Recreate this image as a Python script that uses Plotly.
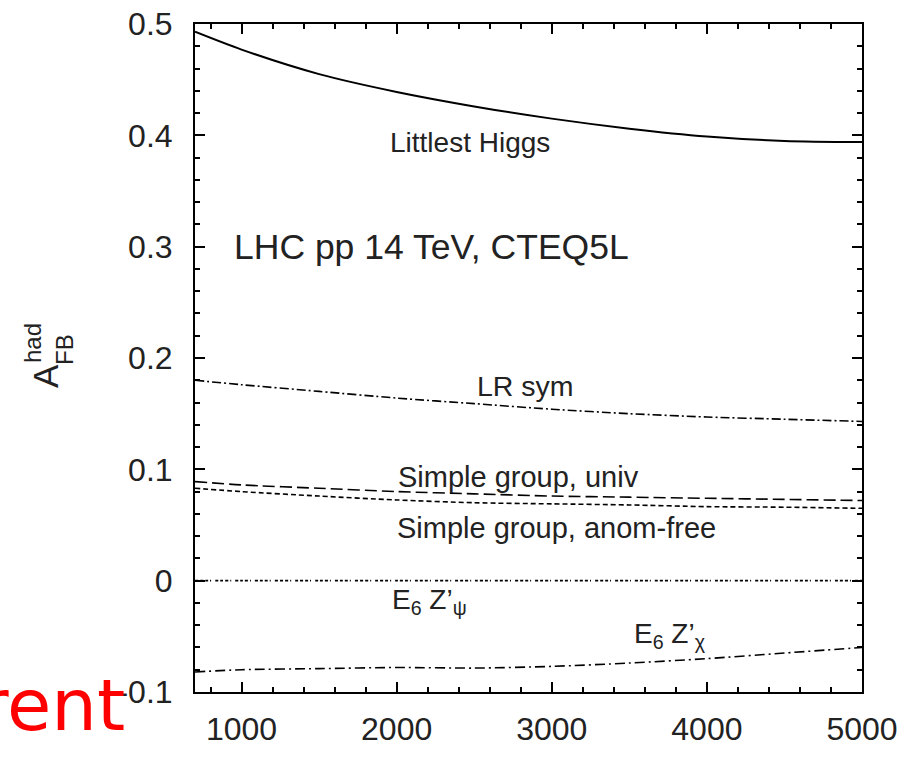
import plotly.graph_objects as go

# ---- data ----
mass = [700, 1000, 1500, 2000, 2500, 3000, 3500, 4000, 4500, 5000]
littlest_higgs = [0.493, 0.477, 0.455, 0.439, 0.426, 0.415, 0.406, 0.399, 0.395, 0.394]
lr_sym = [0.180, 0.176, 0.170, 0.164, 0.159, 0.154, 0.150, 0.147, 0.145, 0.143]
simple_univ = [0.089, 0.086, 0.083, 0.080, 0.078, 0.076, 0.075, 0.074, 0.073, 0.072]
simple_anom = [0.083, 0.080, 0.076, 0.0725, 0.070, 0.069, 0.068, 0.0665, 0.066, 0.065]
e6_psi = [0.0, 0.0, 0.0, 0.0, 0.0, 0.0, 0.0, 0.0, 0.0, 0.0]
e6_chi = [-0.082, -0.080, -0.079, -0.078, -0.0785, -0.077, -0.074, -0.070, -0.065, -0.060]

x_tickvals = [1000, 2000, 3000, 4000, 5000]
x_ticktext = ["1000", "2000", "3000", "4000", "5000"]
y_tickvals = [-0.1, 0.0, 0.1, 0.2, 0.3, 0.4, 0.5]
y_ticktext = ["-0.1", "0", "0.1", "0.2", "0.3", "0.4", "0.5"]

series = [
    ("Littlest Higgs", littlest_higgs, "solid", 2.0),
    ("LR sym", lr_sym, "9px,3px,2px,3px", 1.6),
    ("Simple group, univ", simple_univ, "12px,5px", 1.6),
    ("Simple group, anom-free", simple_anom, "5px,3px", 1.6),
    ("E6 Z'psi", e6_psi, "3px,2px,3px,2px,3px,2px,1px,4px", 1.6),
    ("E6 Z'chi", e6_chi, "10px,4px,2px,4px", 1.6),
]

FONT = "Liberation Sans, Arial, sans-serif"
TXT = "#222222"

fig = go.Figure()
for name, vals, dash, w in series:
    fig.add_trace(go.Scatter(x=mass, y=vals, mode="lines", name=name,
                             line=dict(color="black", width=w, dash=dash, shape="spline", smoothing=0.8),
                             showlegend=False))

labels = [
    ("Littlest Higgs", 2474, 0.3936, "center", 28),
    ("LHC pp 14 TeV, CTEQ5L", 2225, 0.300, "center", 35.5),
    ("LR sym", 2832, 0.1748, "center", 28.5),
    ("Simple group, univ", 2784, 0.0931, "center", 29),
    ("Simple group, anom-free", 3032, 0.0477, "center", 29),
    ("E<sub>6</sub> Z’<sub>ψ</sub>", 1960, -0.0185, "left", 28),
    ("E<sub>6</sub> Z’<sub>χ</sub>", 3519, -0.0488, "left", 28),
]
for text, xv, yv, xa, fs in labels:
    fig.add_annotation(x=xv, y=yv, xref="x", yref="y", text=text, showarrow=False,
                       xanchor=xa, yanchor="middle", font=dict(family=FONT, size=fs, color=TXT))

# plot area in pixels: x 195..862, y 24..692
def px(xp):
    return (xp - 195) / 667.0

def py(yp):
    return (692 - yp) / 668.0

# y-axis title A_FB^had (stacked)
fig.add_annotation(x=px(46), y=py(376), xref="paper", yref="paper", text="A", textangle=-90,
                   showarrow=False, xanchor="center", yanchor="middle",
                   font=dict(family=FONT, size=35, color=TXT))
fig.add_annotation(x=px(64), y=py(350), xref="paper", yref="paper", text="FB", textangle=-90,
                   showarrow=False, xanchor="center", yanchor="middle",
                   font=dict(family=FONT, size=24, color=TXT))
fig.add_annotation(x=px(32), y=py(343), xref="paper", yref="paper", text="had", textangle=-90,
                   showarrow=False, xanchor="center", yanchor="middle",
                   font=dict(family=FONT, size=24, color=TXT))

# red overlaid text fragment
fig.add_annotation(x=px(127), y=py(705), xref="paper", yref="paper", text="rent",
                   showarrow=False, xanchor="right", yanchor="middle",
                   font=dict(family="Comic Sans MS, DejaVu Sans, sans-serif", size=72, color="#ff0000"))

axis_common = dict(showline=True, linecolor="black", linewidth=2, mirror="allticks",
                   ticks="inside", ticklen=10, tickwidth=1.5, tickcolor="black",
                   showgrid=False, zeroline=False,
                   tickfont=dict(family=FONT, size=32, color=TXT))

fig.update_xaxes(range=[700, 5000], tickvals=x_tickvals, ticktext=x_ticktext,
                 minor=dict(dtick=200, tick0=0, ticks="inside", ticklen=5, tickwidth=1.5, tickcolor="black"),
                 ticklabelstandoff=8, **axis_common)
fig.update_yaxes(range=[-0.1, 0.5], tickvals=y_tickvals, ticktext=y_ticktext,
                 minor=dict(dtick=0.02, tick0=0, ticks="inside", ticklen=5, tickwidth=1.5, tickcolor="black"),
                 ticklabelstandoff=14, **axis_common)

fig.update_layout(width=914, height=757, margin=dict(l=195, r=52, t=24, b=65, autoexpand=False),
                  plot_bgcolor="white", paper_bgcolor="white")

fig.write_html("out.html")
